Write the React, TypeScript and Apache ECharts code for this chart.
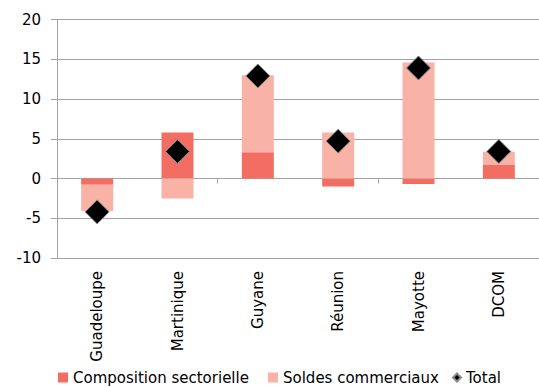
import React, { useEffect, useRef } from "react";
import * as echarts from "echarts";

const categories = ["Guadeloupe", "Martinique", "Guyane", "Réunion", "Mayotte", "DCOM"];
const compositionSectorielle = [-0.8, 5.8, 3.3, -1.0, -0.7, 1.7];
const soldesCommerciaux = [-3.3, -2.5, 9.7, 5.8, 14.6, 1.65];
const total = [-4.2, 3.4, 12.9, 4.7, 13.9, 3.4];
const topText = "commerciaux exprimés en jours de chiffre d'affaires)";

const FONT = "DejaVu Sans";
const GRID_COLOR = "#a3a3a3";

const legendText = { fontSize: 15, color: "#000", fontFamily: FONT };

export default function App() {
  const ref = useRef<HTMLDivElement>(null);
  useEffect(() => {
    const chart = echarts.init(ref.current!, null, { renderer: "svg" });
    chart.setOption({
      animation: false,
      textStyle: { fontFamily: FONT },
      graphic: [
        {
          type: "text",
          left: 12,
          top: -17,
          style: { text: topText, font: `15px ${FONT}`, fill: "#000" },
        },
      ],
      legend: [
        {
          left: 58,
          top: 370,
          padding: 0,
          itemWidth: 10,
          itemHeight: 10,
          textStyle: legendText,
          data: [{ name: "Composition sectorielle", icon: "rect" }],
        },
        {
          left: 268,
          top: 370,
          padding: 0,
          itemWidth: 10,
          itemHeight: 10,
          textStyle: legendText,
          data: [{ name: "Soldes commerciaux", icon: "rect" }],
        },
        {
          left: 452,
          top: 370,
          padding: 0,
          itemWidth: 8,
          itemHeight: 8,
          textStyle: legendText,
          data: [{ name: "Total", icon: "diamond" }],
        },
      ],
      grid: { left: 57, right: -4, top: 19.5, bottom: 129, containLabel: false },
      xAxis: [
        {
          type: "category",
          data: categories,
          position: "bottom",
          axisLine: { onZero: true, lineStyle: { color: GRID_COLOR, width: 1 } },
          axisTick: { show: true, alignWithLabel: false, length: 5, lineStyle: { color: GRID_COLOR } },
          axisLabel: { show: false },
        },
        {
          type: "category",
          data: categories,
          position: "bottom",
          axisLine: { show: false, onZero: false },
          axisTick: { show: false },
          axisLabel: {
            rotate: 90,
            margin: 13,
            fontSize: 15,
            color: "#000",
            fontFamily: FONT,
          },
        },
      ],
      yAxis: {
        type: "value",
        min: -10,
        max: 20,
        interval: 5,
        axisLine: { show: true, lineStyle: { color: GRID_COLOR, width: 1 } },
        axisTick: { show: true, length: 6, lineStyle: { color: GRID_COLOR } },
        splitLine: { show: true, lineStyle: { color: GRID_COLOR, width: 1 } },
        axisLabel: { fontSize: 15, color: "#000", margin: 16, fontFamily: FONT },
      },
      series: [
        {
          name: "Composition sectorielle",
          type: "bar",
          stack: "a",
          barWidth: 32,
          xAxisIndex: 0,
          itemStyle: { color: "#f26e63" },
          data: compositionSectorielle,
        },
        {
          name: "Soldes commerciaux",
          type: "bar",
          stack: "a",
          barWidth: 32,
          xAxisIndex: 0,
          itemStyle: { color: "#f9b2a6" },
          data: soldesCommerciaux,
        },
        {
          name: "Total",
          type: "scatter",
          xAxisIndex: 0,
          symbol: "diamond",
          symbolSize: 24,
          itemStyle: { color: "#000", borderColor: "#8a8a8a", borderWidth: 1, opacity: 1 },
          data: total,
          z: 5,
        },
      ],
    });
    return () => chart.dispose();
  }, []);
  return (
    <div
      ref={ref}
      style={{ position: "fixed", left: 0, top: 0, width: 539, height: 387, background: "#fff" }}
    />
  );
}
